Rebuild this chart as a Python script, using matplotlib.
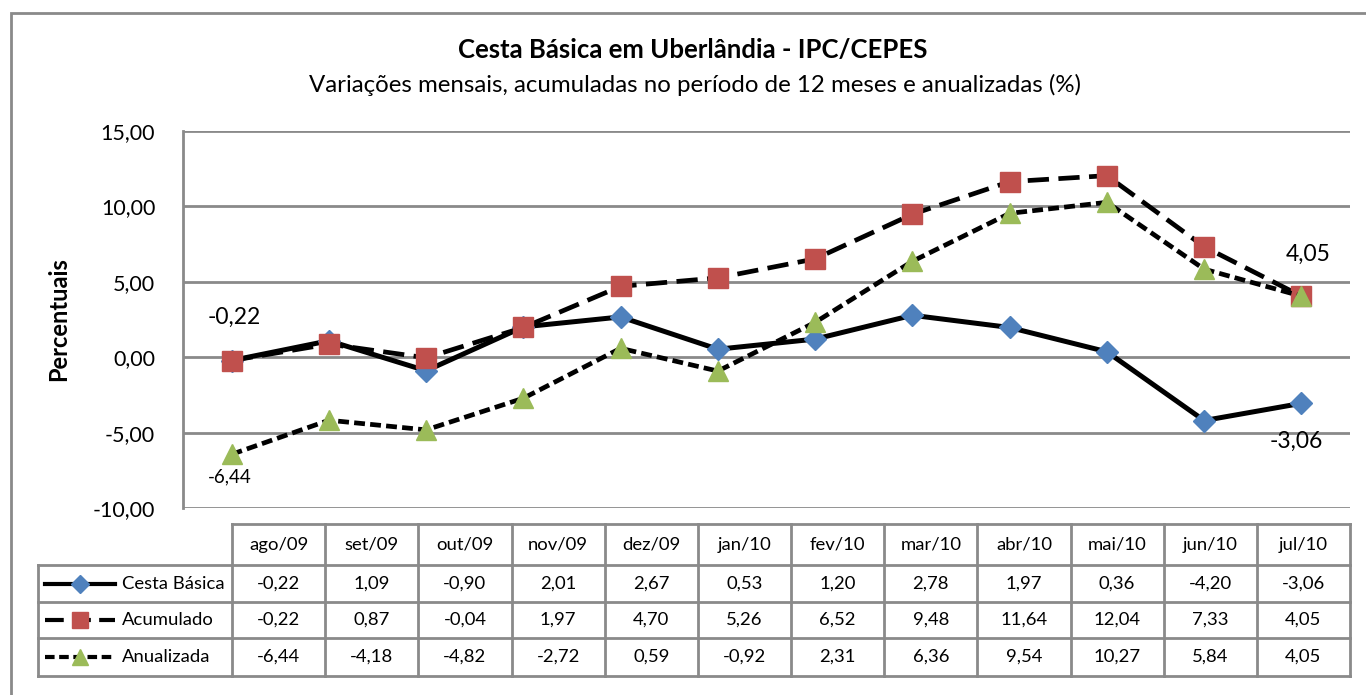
import matplotlib
matplotlib.use("Agg")
import matplotlib.pyplot as plt
from matplotlib.patches import Rectangle

plt.rcParams['font.family'] = ['Lato', 'DejaVu Sans']

# dados
meses = ['ago/09', 'set/09', 'out/09', 'nov/09', 'dez/09', 'jan/10',
         'fev/10', 'mar/10', 'abr/10', 'mai/10', 'jun/10', 'jul/10']
cesta = [-0.22, 1.09, -0.90, 2.01, 2.67, 0.53, 1.20, 2.78, 1.97, 0.36, -4.20, -3.06]
acumulado = [-0.22, 0.87, -0.04, 1.97, 4.70, 5.26, 6.52, 9.48, 11.64, 12.04, 7.33, 4.05]
anualizada = [-6.44, -4.18, -4.82, -2.72, 0.59, -0.92, 2.31, 6.36, 9.54, 10.27, 5.84, 4.05]
nomes = ['Cesta Básica', 'Acumulado', 'Anualizada']
yticks = [-10, -5, 0, 5, 10, 15]

W, H = 1366, 695
fig = plt.figure(figsize=(W / 100, H / 100), dpi=100)
cinza = '#8a8a8a'

def fmt(v):
    return ('%.2f' % v).replace('.', ',')

# moldura externa
fig.patches.append(Rectangle((11 / W, -0.1), 1.2, 1 - 13 / H + 0.1, transform=fig.transFigure,
                             fill=False, ec=cinza, lw=2))

# área do gráfico
x0, x1 = 183, 1350
ax = fig.add_axes([x0 / W, (H - 508) / H, (x1 - x0) / W, (508 - 131) / H])
x = list(range(len(meses)))

estilos = [
    dict(color='black', lw=3.6, marker='D', ms=11, mfc='#4F81BD', mec='#4F81BD', ls='-'),
    dict(color='black', lw=3.4, marker='s', ms=14, mfc='#C0504D', mec='#C0504D', dashes=(4.5, 2)),
    dict(color='black', lw=3.4, marker='^', ms=15, mfc='#9BBB59', mec='#9BBB59', dashes=(2.3, 1.1)),
]
series = [cesta, acumulado, anualizada]
for i, (s, st) in enumerate(zip(series, estilos)):
    ax.plot(x, s, zorder=3 + i, clip_on=False, **st)

ax.set_xlim(-0.5, 11.5)
ax.set_ylim(-10, 15)
ax.set_yticks(yticks)
ax.set_yticklabels([fmt(v) for v in yticks], fontsize=15.5)
ax.yaxis.set_tick_params(length=0, pad=20)
ax.set_xticks([])
ax.grid(axis='y', color=cinza, lw=2)
for sp in ['top', 'right', 'bottom']:
    ax.spines[sp].set_visible(False)
ax.spines['left'].set_color(cinza)
ax.spines['left'].set_linewidth(2)
ax.set_ylabel('Percentuais', fontsize=17, fontweight='bold', labelpad=16)

# rótulos de dados
ax.annotate(fmt(cesta[0]), (0, cesta[0]), xytext=(2, 31), textcoords='offset points',
            ha='center', va='center', fontsize=16.5)
ax.annotate(fmt(anualizada[0]), (0, anualizada[0]), xytext=(-1, -16), textcoords='offset points',
            ha='center', va='center', fontsize=13.5)
ax.annotate(fmt(acumulado[-1]), (11, acumulado[-1]), xytext=(5, 30), textcoords='offset points',
            ha='center', va='center', fontsize=16.5)
ax.annotate(fmt(cesta[-1]), (11, cesta[-1]), xytext=(-4, -27), textcoords='offset points',
            ha='center', va='center', fontsize=16.5)

# títulos
fig.text(693 / W, 1 - 50 / H, 'Cesta Básica em Uberlândia - IPC/CEPES', ha='center', va='center',
         fontsize=18.5, fontweight='bold')
fig.text(695 / W, 1 - 85 / H, 'Variações mensais, acumuladas no período de 12 meses e anualizadas (%)',
         ha='center', va='center', fontsize=17.3)

# tabela de dados
tx0, tx1, col0 = 38, 1350, 232
linhas = [524, 565, 602, 638, 676]
tab = fig.add_axes([tx0 / W, (H - linhas[-1]) / H, (tx1 - tx0) / W, (linhas[-1] - linhas[0]) / H])
larg = (tx1 - col0) / 12
esq = -(col0 - tx0) / larg
tab.set_xlim(esq, 12)
tab.set_ylim(linhas[-1], linhas[0])
tab.axis('off')
kw = dict(color=cinza, lw=2, clip_on=False)
tab.plot([0, 12], [linhas[0]] * 2, **kw)
for yy in linhas[1:]:
    tab.plot([esq, 12], [yy, yy], **kw)
for c in range(0, 13):
    tab.plot([c, c], [linhas[0], linhas[-1]], **kw)
tab.plot([esq, esq], [linhas[1], linhas[-1]], **kw)
for c, m in enumerate(meses):
    tab.text(c + 0.5, (linhas[0] + linhas[1]) / 2, m, ha='center', va='center', fontsize=13.3)
for r, (s, st, nome) in enumerate(zip(series, estilos, nomes)):
    ym = (linhas[r + 1] + linhas[r + 2]) / 2
    for c, v in enumerate(s):
        tab.text(c + 0.5, ym, fmt(v), ha='center', va='center', fontsize=13.3)
    leg = dict(st)
    leg['ms'] = st['ms'] * 0.8
    leg['lw'] = 3
    tab.plot([esq + 0.08, esq + 0.455, esq + 0.83], [ym, ym, ym], markevery=[1], clip_on=False, **leg)
    tab.text(esq + 0.9, ym, nome, ha='left', va='center', fontsize=13.3)

fig.savefig('out.png', dpi=100)
